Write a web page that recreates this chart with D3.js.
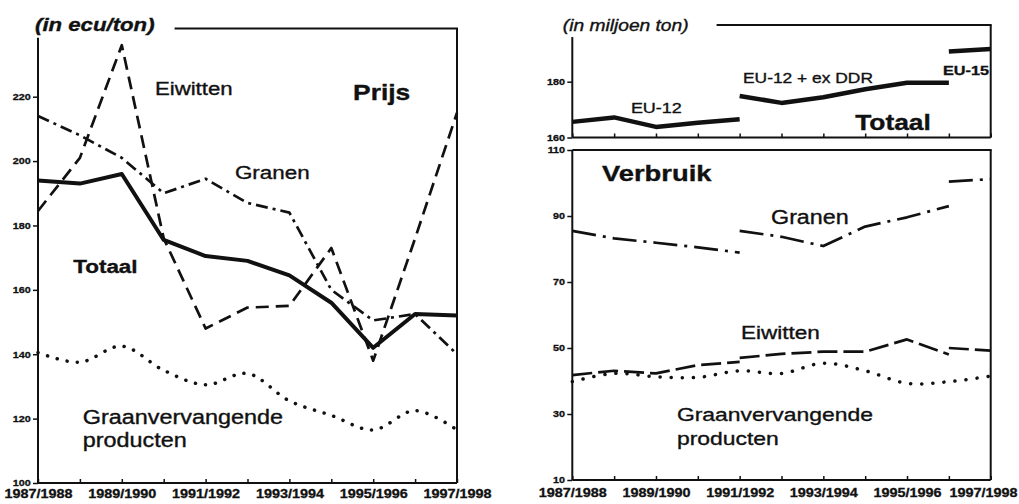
<!DOCTYPE html>
<head>
<meta charset="utf-8">
<style>
  body { margin: 0; background: #fff; }
  svg { display: block; }
  .lbl { font-family: "Liberation Sans", Arial, sans-serif; fill: #111; stroke: #111; stroke-width: 0.35px; }
  .tick text { font-family: "Liberation Sans", Arial, sans-serif; font-weight: bold; fill: #111; stroke: #111; stroke-width: 0.3px; }
  .tick line { stroke: #111; stroke-width: 1.5px; }
  .frame { stroke: #111; stroke-width: 2px; fill: none; }
  .series { fill: none; stroke: #111; stroke-linejoin: round; }
</style>
</head>
<body>
<script src="https://d3js.org/d3.v7.min.js"></script>
<script>
// --- data ---
var years = ["1987/1988", "1988/1989", "1989/1990", "1990/1991", "1991/1992", "1992/1993",
             "1993/1994", "1994/1995", "1995/1996", "1996/1997", "1997/1998"];

// left: Prijs (in ecu/ton)
var prijsTicks = [100, 120, 140, 160, 180, 200, 220];
var prijsTotaal    = [194, 193, 196, 175.5, 170.5, 169, 164.5, 156, 142, 152.5, 152];
var prijsEiwitten  = [184.5, 201, 236, 176, 148, 154.5, 155, 173, 138, 176, 215];
var prijsGranen    = [214, 208, 201, 190, 194.5, 187, 184, 160, 150.5, 152.5, 140];
var prijsGraanverv = [140.5, 137.5, 142.5, 135, 130.5, 134, 125.5, 121, 116.5, 122.5, 116.5];

// right: Verbruik (in miljoen ton), broken where EU changed composition
var totaalTicks = [160, 180];
var totaalEU12  = [165.6, 167.2, 163.8, 165.3, 166.5, null, null, null, null, null, null];
var totaalDDR   = [null, null, null, null, 174.9, 172.4, 174.4, 177.3, 179.6, 179.6, null];
var totaalEU15  = [null, null, null, null, null, null, null, null, null, 190.8, 191.7];

var verbruikTicks = [10, 30, 50, 70, 90, 110];
var granenEU12  = [85.5, 83.2, 81.9, 80.5, 78.9, null, null, null, null, null, null];
var granenDDR   = [null, null, null, null, 85.5, 83.7, 80.9, 86.8, 89.6, 93, null];
var granenEU15  = [null, null, null, null, null, null, null, null, null, 100.4, 101.2];
var eiwitEU12   = [41.8, 43.1, 42.3, 44.8, 45.8, null, null, null, null, null, null];
var eiwitDDR    = [null, null, null, null, 47, 48.2, 48.9, 48.9, 52.6, 48, null];
var eiwitEU15   = [null, null, null, null, null, null, null, null, null, 50, 49.2];
var graanvVerbruik = [39.8, 42.3, 41.3, 41.1, 43.1, 42.3, 45.4, 43.1, 39.3, 39.8, 41.5];

// the scan is a bit wider than it is tall, so text is stretched horizontally
var stretch = 1.2;

var svg = d3.select("body").append("svg")
    .attr("width", 1019)
    .attr("height", 504);

// scales
var xL = d3.scaleLinear().domain([0, 10]).range([38, 457]);
var yL = d3.scaleLinear().domain([100, 220]).range([483, 96.7]);
var xR = d3.scaleLinear().domain([0, 10]).range([572.3, 990.7]);
var yTop = d3.scaleLinear().domain([160, 180]).range([137.5, 81.7]);
var yBot = d3.scaleLinear().domain([10, 110]).range([480, 150]);

// text helper: x,y are baseline-left in pixels
function label(x, y, txt, size, weight, style) {
  return svg.append("text")
      .attr("class", "lbl")
      .attr("transform", "translate(" + x + "," + y + ") scale(" + stretch + ",1)")
      .style("font-size", size + "px")
      .style("font-weight", weight || "normal")
      .style("font-style", style || "normal")
      .text(txt);
}

function frameLine(x1, y1, x2, y2) {
  svg.append("line").attr("class", "frame")
      .attr("x1", x1).attr("y1", y1).attr("x2", x2).attr("y2", y2);
}

function drawLine(values, x, y, width, dash, curve) {
  var line = d3.line()
      .defined(function(d) { return d != null; })
      .x(function(d, i) { return x(i); })
      .y(function(d) { return y(d); })
      .curve(curve || d3.curveLinear);
  svg.append("path")
      .datum(values)
      .attr("class", "series")
      .style("stroke-width", width)
      .style("stroke-dasharray", dash || null)
      .style("stroke-linecap", dash && dash.indexOf("0.1") == 0 ? "round" : "butt")
      .attr("d", line);
}

function stretchTicks(g) {
  g.select(".domain").remove();
  g.selectAll(".tick text").attr("transform", "scale(" + stretch + ",1)");
}

// ================= LEFT PANEL: Prijs =================
var titleL = label(xL(0) - 3, 31, "(in ecu/ton)", 18.5, "bold", "italic");
var titleLEnd = xL(0) - 3 + titleL.node().getComputedTextLength() * stretch;

frameLine(xL(0), yL(238.3), xL(0), yL(100));
frameLine(xL(0), yL(100), xL(10), yL(100));
frameLine(xL(10), yL(241.2), xL(10), yL(100));
frameLine(titleLEnd + 20, yL(241.2), xL(10) + 1, yL(241.2));

svg.append("g")
    .attr("transform", "translate(" + xL(0) + ",0)")
    .call(d3.axisLeft(yL).tickValues(prijsTicks).tickSize(5).tickPadding(1))
    .call(stretchTicks)
    .selectAll(".tick text").style("font-size", "9px");

svg.append("g")
    .attr("transform", "translate(0," + yL(100) + ")")
    .call(d3.axisBottom(xL).tickValues(d3.range(11)).tickSize(-4).tickPadding(6.5)
      .tickFormat(function(i) { return i % 2 == 0 ? years[i] : ""; }))
    .call(stretchTicks)
    .selectAll(".tick text").style("font-size", "12px");

drawLine(prijsGraanverv, xL, yL, 3.5, "0.1,10", d3.curveCatmullRom);
drawLine(prijsGranen, xL, yL, 2.7, "12,5,3,5");
drawLine(prijsEiwitten, xL, yL, 2.7, "13,7");
drawLine(prijsTotaal, xL, yL, 4);

label(xL(2.79), yL(220.5), "Eiwitten", 18.5);
label(xL(7.52), yL(219), "Prijs", 22, "bold");
label(xL(4.70), yL(194.4), "Granen", 18.7);
label(xL(0.84), yL(165.2), "Totaal", 18.7, "bold");
label(xL(1.07), yL(118.3), "Graanvervangende", 19.5);
label(xL(1.07), yL(111.2), "producten", 19.5);

// ================= RIGHT PANEL: Verbruik =================
var titleR = label(xR(0) - 9.5, 31, "(in miljoen ton)", 16, "normal", "italic");
var titleREnd = xR(0) - 9.5 + titleR.node().getComputedTextLength() * stretch;

// top sub-panel (Totaal)
frameLine(xR(0), yTop(196), xR(0), yTop(160));
frameLine(xR(0), yTop(160), xR(10), yTop(160));
frameLine(xR(10), yTop(200.3), xR(10), yTop(160));
frameLine(titleREnd + 28, yTop(200.3), xR(10) + 1, yTop(200.3));

svg.append("g")
    .attr("transform", "translate(" + xR(0) + ",0)")
    .call(d3.axisLeft(yTop).tickValues(totaalTicks).tickSize(5).tickPadding(1))
    .call(stretchTicks)
    .selectAll(".tick text").style("font-size", "9px");

svg.append("g")
    .attr("transform", "translate(0," + yTop(160) + ")")
    .call(d3.axisBottom(xR).tickValues(d3.range(11)).tickSize(-4).tickFormat(""))
    .call(stretchTicks);

drawLine(totaalEU12, xR, yTop, 4.5);
drawLine(totaalDDR, xR, yTop, 4.5);
drawLine(totaalEU15, xR, yTop, 4.5);

label(xR(1.40), yTop(168.8), "EU-12", 15);
label(xR(4.08), yTop(179.5), "EU-12 + ex DDR", 14.5);
label(xR(8.86), yTop(182.4), "EU-15", 13.5, "bold");
label(xR(6.76), yTop(162.7), "Totaal", 22, "bold");

// bottom sub-panel (Granen / Eiwitten / Graanvervangende producten)
frameLine(xR(0), yBot(110), xR(10) + 1, yBot(110));
frameLine(xR(0), yBot(110), xR(0), yBot(10));
frameLine(xR(0), yBot(10), xR(10), yBot(10));
frameLine(xR(10), yBot(110), xR(10), yBot(10));

svg.append("g")
    .attr("transform", "translate(" + xR(0) + ",0)")
    .call(d3.axisLeft(yBot).tickValues(verbruikTicks).tickSize(5).tickPadding(1))
    .call(stretchTicks)
    .selectAll(".tick text").style("font-size", "9px");

var xAxisR = svg.append("g")
    .attr("transform", "translate(0," + yBot(10) + ")")
    .call(d3.axisBottom(xR).tickValues(d3.range(11)).tickSize(-4).tickPadding(8.5)
      .tickFormat(function(i) { return i % 2 == 0 ? years[i] : ""; }))
    .call(stretchTicks);
xAxisR.selectAll(".tick text").style("font-size", "12px");
// last label sits against the page edge, keep it inside
xAxisR.selectAll(".tick text").filter(function(d) { return d == 10; })
    .attr("text-anchor", "end")
    .attr("x", (1017 - xR(10)) / stretch);

drawLine(graanvVerbruik, xR, yBot, 3.5, "0.1,11", d3.curveCatmullRom);
drawLine(eiwitEU12, xR, yBot, 2.7, "20,6");
drawLine(eiwitDDR, xR, yBot, 2.7, "20,6");
drawLine(eiwitEU15, xR, yBot, 2.7, "20,6");
drawLine(granenEU12, xR, yBot, 2.7, "24,7,3,7");
drawLine(granenDDR, xR, yBot, 2.7, "24,7,3,7");
drawLine(granenEU15, xR, yBot, 2.7, "24,7,3,7");

label(xR(0.71), yBot(100.6), "Verbruik", 22.8, "bold");
label(xR(4.75), yBot(87.6), "Granen", 19.4);
label(xR(4.03), yBot(52.7), "Eiwitten", 18.8);
label(xR(2.50), yBot(27.9), "Graanvervangende", 19.1);
label(xR(2.50), yBot(20.6), "producten", 19.1);
</script>
</body>
